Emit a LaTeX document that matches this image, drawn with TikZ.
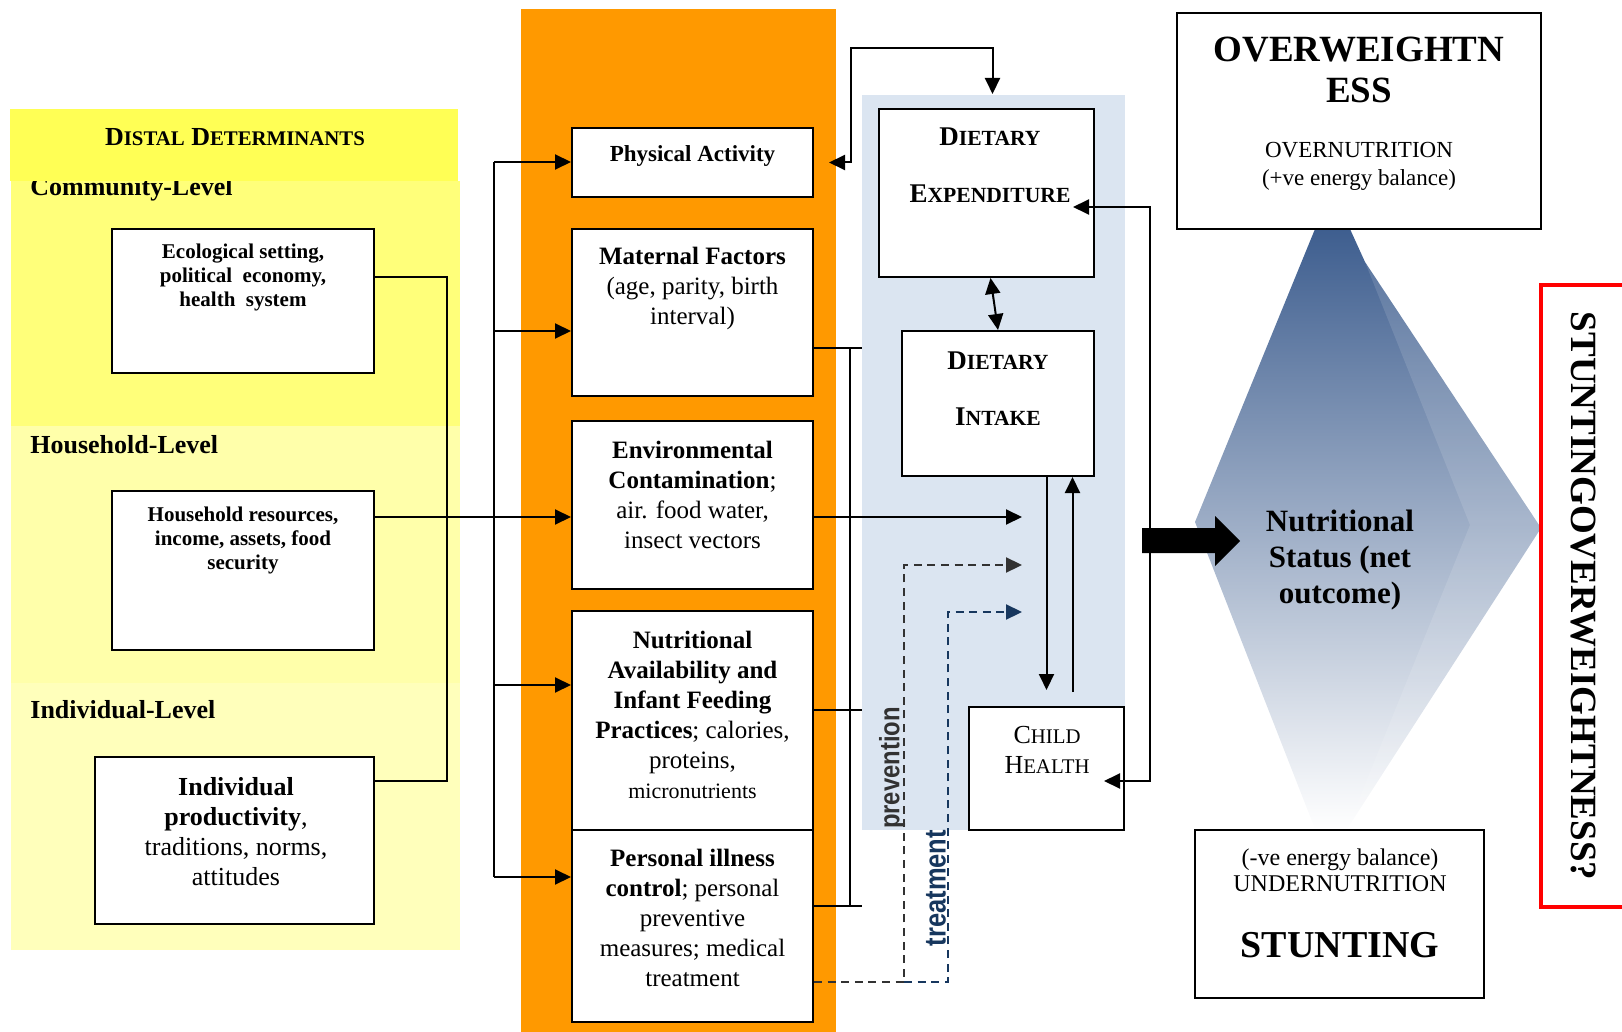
\documentclass[tikz,border=0pt]{standalone}
\usepackage{fontspec}
\setmainfont{Liberation Serif}
\newfontfamily\condsans{Liberation Sans}
\usetikzlibrary{arrows.meta,calc}

\definecolor{ylhead}{RGB}{255,255,85}
\definecolor{ylcomm}{RGB}{255,255,122}
\definecolor{ylhouse}{RGB}{255,255,170}
\definecolor{ylindiv}{RGB}{255,255,187}
\definecolor{orangecol}{RGB}{255,153,0}
\definecolor{bluepanel}{RGB}{219,229,241}
\definecolor{dmtop}{RGB}{62,94,143}
\definecolor{dmmid}{RGB}{178,187,207}
\definecolor{prevgray}{RGB}{50,50,50}
\definecolor{treatblue}{RGB}{23,55,94}

\newcommand{\setfs}[2]{\fontsize{#1}{#2}\selectfont}
\newcommand{\lowcaps}[2]{#1\scalebox{0.8}{#2}}

\begin{document}
\begin{tikzpicture}[
  x=0.5pt, y=-0.5pt,
  every node/.style={inner sep=0pt},
  box/.style={draw, line width=1pt, fill=white},
  txt/.style={align=center},
  conn/.style={line width=1pt},
  arr/.style={-{Triangle[length=8pt,width=7.5pt]}, line width=1pt},
  dblarr/.style={{Triangle[length=8pt,width=7.5pt]}-{Triangle[length=8pt,width=7.5pt]}, line width=1pt},
  dashln/.style={line width=1.1pt, dash pattern=on 4pt off 2.8pt}
]
\useasboundingbox (0,0) rectangle (1622,1032);

%--------------------------------------------------
% left: distal determinants
%--------------------------------------------------
\fill[ylcomm] (11,181) rectangle (460,426);
\fill[ylhouse] (11,426) rectangle (460,683);
\fill[ylindiv] (11,683) rectangle (460,950);

\node[anchor=base west, font=\setfs{13}{15}\bfseries] (lvl-comm) at (30,196) {Community-Level};
\node[anchor=base west, font=\setfs{13}{15}\bfseries] (lvl-house) at (30,453) {Household-Level};
\node[anchor=base west, font=\setfs{13}{15}\bfseries] (lvl-indiv) at (30,718) {Individual-Level};

\fill[ylhead] (10,109) rectangle (458,181);
\node[font=\setfs{13}{15}\bfseries] (distal) at (235,137) {\lowcaps{D}{ISTAL} \lowcaps{D}{ETERMINANTS}};

\node[box, minimum width=131pt, minimum height=72pt] (eco) at (243,301) {};
\node[txt, font=\setfs{10.5}{12}\bfseries] (eco-txt) at (243,277) {
Ecological setting,\\
political\ \ economy,\\
health\ \ system
};

\node[box, minimum width=131pt, minimum height=79.5pt] (house) at (243,570.5) {};
\node[txt, font=\setfs{10.5}{12}\bfseries] (house-txt) at (243,540) {
Household resources,\\
income, assets, food\\
security
};

\node[box, minimum width=139.5pt, minimum height=83.5pt] (indiv) at (234.5,840.5) {};
\node[txt, font=\setfs{13}{15}] (indiv-txt) at (236,832) {
\textbf{Individual}\\
\textbf{productivity},\\
traditions, norms,\\
attitudes
};

%--------------------------------------------------
% middle: proximal factors
%--------------------------------------------------
\fill[orangecol] (521,9) rectangle (836,1032);

\node[box, minimum width=120.5pt, minimum height=34.5pt] (pa) at (692.5,162.5) {};
\node[txt, font=\setfs{11.5}{14}\bfseries] (pa-txt) at (692.5,156) {Physical Activity};

\node[box, minimum width=120.5pt, minimum height=83.5pt] (mat) at (692.5,312.5) {};
\node[txt, font=\setfs{12.5}{15}] (mat-txt) at (692.5,288) {
\textbf{Maternal Factors}\\
(age, parity, birth\\
interval)
};

\node[box, minimum width=120.5pt, minimum height=84pt] (env) at (692.5,505) {};
\node[txt, font=\setfs{12.5}{15}] (env-txt) at (692.5,495) {
\textbf{Environmental}\\
\textbf{Contamination};\\
air. food water,\\
insect vectors
};

\node[box, minimum width=120.5pt, minimum height=109.5pt] (nut) at (692.5,720.5) {};
\node[txt, font=\setfs{12.5}{15}] (nut-txt) at (692.5,714.5) {
\textbf{Nutritional}\\
\textbf{Availability and}\\
\textbf{Infant Feeding}\\
\textbf{Practices}; calories,\\
proteins,\\
{\setfs{11}{15}micronutrients}
};

\node[box, minimum width=120.5pt, minimum height=96pt] (pers) at (692.5,926) {};
\node[txt, font=\setfs{12.5}{15}] (pers-txt) at (692.5,918) {
\textbf{Personal illness}\\
\textbf{control}; personal\\
preventive\\
measures; medical\\
treatment
};

%--------------------------------------------------
% dietary panel
%--------------------------------------------------
\fill[bluepanel] (862,95) rectangle (1125,830);

\node[box, minimum width=107.5pt, minimum height=84pt] (de) at (986.5,193) {};
\node[txt, font=\setfs{13.5}{28.5}\bfseries] (de-txt) at (990,165) {
\lowcaps{D}{IETARY}\\
\lowcaps{E}{XPENDITURE}
};

\node[box, minimum width=96pt, minimum height=72.5pt] (di) at (998,403.5) {};
\node[txt, font=\setfs{13.5}{28}\bfseries] (di-txt) at (998,389) {
\lowcaps{D}{IETARY}\\
\lowcaps{I}{NTAKE}
};

\node[box, minimum width=77.5pt, minimum height=61.5pt] (child) at (1046.5,768.5) {};
\node[txt, font=\setfs{13}{15}] (child-txt) at (1047,750) {
\lowcaps{C}{HILD}\\
\lowcaps{H}{EALTH}
};

\node[rotate=90, font=\condsans\setfs{14}{16}\bfseries, text=prevgray] (prev-lbl) at (892,768) {\scalebox{0.85}[1]{prevention}};
\node[rotate=90, font=\condsans\setfs{15}{17}\bfseries, text=treatblue] (treat-lbl) at (936,888) {\scalebox{0.85}[1]{treatment}};

%--------------------------------------------------
% right: nutritional status
%--------------------------------------------------
\shade[top color=dmtop, middle color=dmmid, bottom color=white]
  (1315,229) -- (1350,229) -- (1365,262) -- (1541,528) -- (1347,829) -- (1315,829) -- (1195,522) -- cycle;
\fill[white, opacity=0.12]
  (1365,262) -- (1541,528) -- (1347,829) -- (1385,735) -- (1470,525) -- cycle;

\node[box, minimum width=182pt, minimum height=108pt] (ow) at (1359,121) {};
\node[txt, font=\setfs{18.5}{20.5}\bfseries] (ow-title) at (1359,70) {OVERWEIGHTN\\ESS};
\node[txt, font=\setfs{11.5}{14}] (ow-sub) at (1359,166) {OVERNUTRITION\\(+ve energy balance)};

\node[box, minimum width=144.5pt, minimum height=84pt] (stunt) at (1339.5,914) {};
\node[txt, font=\setfs{12}{13}] (stunt-sub) at (1340,870) {(-ve energy balance)\\UNDERNUTRITION};
\node[txt, font=\setfs{19}{22}\bfseries] (stunt-title) at (1340,945) {STUNTING};

\node[txt, font=\setfs{15.5}{18}\bfseries] (nstat) at (1340,560) {
Nutritional\\
Status (net\\
outcome)
};

\draw[red, line width=2pt] (1541,285) rectangle (1650,907);
\node[rotate=-90, font=\setfs{18.5}{20}\bfseries] (both) at (1583,596) {STUNTINGOVERWEIGHTNESS?};

%--------------------------------------------------
% connectors
%--------------------------------------------------
% distal bus
\coordinate (dtop) at (447,277);
\coordinate (dbot) at (447,781);
\coordinate (hrow) at (0,517);
\draw[conn] (eco.east|-dtop) -- (dtop) -- (dbot) -- (indiv.east|-dbot);
\draw[arr] (house.east|-hrow) -- (env.west|-hrow);

% left bus into proximal boxes
\coordinate (b-pa) at (494,162);
\coordinate (b-mat) at (494,331);
\coordinate (b-nut) at (494,685);
\coordinate (b-pers) at (494,877);
\draw[conn] (b-pa) -- (b-pers);
\draw[arr] (b-pa) -- (pa.west|-b-pa);
\draw[arr] (b-mat) -- (mat.west|-b-mat);
\draw[arr] (b-nut) -- (nut.west|-b-nut);
\draw[arr] (b-pers) -- (pers.west|-b-pers);

% right bus
\coordinate (r-mat) at (862,348);
\coordinate (r-nut) at (862,710);
\coordinate (r-pers) at (862,906);
\coordinate (rb-top) at (850,348);
\coordinate (rb-bot) at (850,906);
\draw[conn] (mat.east|-r-mat) -- (r-mat);
\draw[conn] (nut.east|-r-nut) -- (r-nut);
\draw[conn] (pers.east|-r-pers) -- (r-pers);
\draw[conn] (rb-top) -- (rb-bot);

% environment into diet
\coordinate (env-tip) at (1022,517);
\draw[arr] (env.east|-hrow) -- (env-tip);

% prevention / treatment
\coordinate (dash-row) at (0,982);
\coordinate (prev-in) at (1022,565);
\coordinate (treat-in) at (1022,612);
\draw[dashln, prevgray, -{Triangle[length=8pt,width=7.5pt]}]
  (pers.east|-dash-row) -- (904,982) -- (904,565) -- (prev-in);
\draw[dashln, treatblue, -{Triangle[length=8pt,width=7.5pt]}]
  (904,982) -- (948,982) -- (948,612) -- (treat-in);

% physical activity <-> expenditure
\coordinate (pa-tip) at ([xshift=7.5pt]pa.east);
\coordinate (de-top) at ([xshift=3pt,yshift=7pt]de.north);
\draw[dblarr] (pa-tip) -| (851,48) -| (de-top);

% expenditure <-> intake
\draw[dblarr] ([xshift=2pt]de.south) -- (di.north);

% intake <-> child health
\coordinate (ch-down) at ([yshift=8pt]child.north);
\coordinate (ch-up) at ([xshift=13pt,yshift=7pt]child.north);
\draw[arr] (di.south-|ch-down) -- (ch-down);
\draw[arr] (ch-up) -- (ch-up|-di.south);

% expenditure <-> child health loop
\coordinate (de-in) at (1073,207);
\coordinate (ch-in) at (1104,781);
\coordinate (rloop) at (1150,0);
\draw[dblarr] (de-in) -- (de-in-|rloop) -- (ch-in-|rloop) -- (ch-in);

% big arrow into nutritional status
\fill (1142,528) -- (1215,528) -- (1215,516) -- (1240,541) -- (1215,566) -- (1215,553) -- (1142,553) -- cycle;

\end{tikzpicture}
\end{document}
